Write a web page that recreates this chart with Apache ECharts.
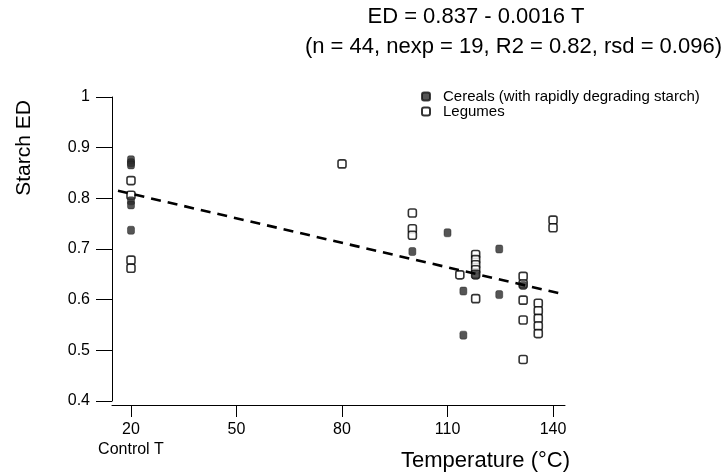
<!DOCTYPE html>
<html>
<head>
<meta charset="utf-8">
<script src="https://cdn.jsdelivr.net/npm/echarts@6/dist/echarts.min.js"></script>
<style>
html,body{margin:0;padding:0;background:#fff;}
#c{width:724px;height:472px;}
</style>
</head>
<body>
<div id="c"></div>
<script>
// Data
const cerealT  = [20, 20, 20, 20, 20, 20, 100, 110, 114.5, 114.5, 118, 124.7, 124.7, 131.5];
const cerealED = [0.876, 0.870, 0.866, 0.795, 0.787, 0.737, 0.695, 0.732, 0.617, 0.530, 0.648, 0.700, 0.610, 0.628];

const legumeT  = [20, 20, 20, 20, 80, 100, 100, 100, 113.5, 118, 118, 118, 118, 118, 118,
                  131.5, 131.5, 131.5, 131.5, 131.5, 135.8, 135.8, 135.8, 135.8, 135.8, 140, 140];
const legumeED = [0.835, 0.806, 0.678, 0.662, 0.868, 0.771, 0.740, 0.727, 0.649, 0.689, 0.679, 0.669, 0.659, 0.650, 0.602,
                  0.646, 0.631, 0.599, 0.560, 0.482, 0.593, 0.578, 0.563, 0.548, 0.533, 0.757, 0.742];

const fitT  = [16.3, 141.5];
const fitED = [0.815, 0.613];

const xTicks = [20, 50, 80, 110, 140];
const xControlLabel = 'Control T';
const titleLine1 = 'ED = 0.837 - 0.0016 T';
const titleLine2 = '(n = 44, nexp = 19, R2 = 0.82, rsd = 0.096)';
const seriesNames = ['Cereals (with rapidly degrading starch)', 'Legumes'];

const FONT = '"Liberation Sans", Arial, sans-serif';
const zip = (a, b) => a.map((v, i) => [v, b[i]]);

const chart = echarts.init(document.getElementById('c'), null, {renderer: 'canvas'});
chart.setOption({
  animation: false,
  backgroundColor: '#fff',
  textStyle: {fontFamily: FONT, color: '#000'},
  grid: {left: 112, right: 159, top: 97, bottom: 70, containLabel: false},
  legend: {
    orient: 'vertical',
    left: 421, top: 89,
    padding: 0,
    itemGap: 0,
    itemWidth: 8, itemHeight: 8,
    textStyle: {fontFamily: FONT, fontSize: 15, color: '#000', padding: [0, 0, 0, 8]},
    data: seriesNames
  },
  graphic: [
    {type: 'text', x: 476, y: 17, style: {text: titleLine1, font: '22px ' + FONT, fill: '#000', align: 'center', verticalAlign: 'middle'}},
    {type: 'text', x: 722, y: 47, style: {text: titleLine2, font: '22px ' + FONT, fill: '#000', align: 'right', verticalAlign: 'middle'}},
    {type: 'text', x: 24, y: 148, rotation: Math.PI / 2, style: {text: 'Starch ED', font: '21px ' + FONT, fill: '#000', align: 'center', verticalAlign: 'middle'}}
  ],
  xAxis: {
    type: 'value',
    min: 14.6, max: 143.4,
    offset: 4,
    splitLine: {show: false},
    axisLine: {show: true, onZero: false, lineStyle: {color: '#000', width: 1}},
    axisTick: {show: true, length: 12, customValues: xTicks, lineStyle: {color: '#000', width: 1}},
    axisLabel: {
      customValues: xTicks,
      margin: 17,
      fontSize: 16, color: '#000', fontFamily: FONT,
      formatter: v => v === 20 ? '20\n{c|' + xControlLabel + '}' : String(v),
      rich: {c: {fontSize: 16, fontFamily: FONT, color: '#000', lineHeight: 24}}
    },
    name: 'Temperature (°C)',
    nameLocation: 'end',
    nameGap: 5,
    nameTextStyle: {fontSize: 22, fontFamily: FONT, color: '#000', align: 'right', verticalAlign: 'top', padding: [45, 0, 0, 0]}
  },
  yAxis: {
    type: 'value',
    min: 0.4, max: 1, interval: 0.1,
    splitLine: {show: false},
    axisLine: {show: true, onZero: false, lineStyle: {color: '#000', width: 1}},
    axisTick: {show: true, length: 16, lineStyle: {color: '#000', width: 1}},
    axisLabel: {margin: 22, fontSize: 16, color: '#000', fontFamily: FONT, padding: [0, 0, 4, 0],
      formatter: v => String(Math.round(v * 10) / 10)}
  },
  series: [
    {
      name: seriesNames[0], type: 'scatter',
      symbol: 'roundRect', symbolSize: [7, 8],
      itemStyle: {color: '#2b2b2b', borderColor: '#111', borderWidth: 0.5},
      data: zip(cerealT, cerealED), z: 3
    },
    {
      name: seriesNames[1], type: 'scatter',
      symbol: 'roundRect', symbolSize: [8, 8],
      itemStyle: {color: '#fff', borderColor: '#000', borderWidth: 1.6},
      data: zip(legumeT, legumeED), z: 2
    },
    {
      name: 'fit', type: 'line',
      data: zip(fitT, fitED),
      symbol: 'none', z: 4,
      lineStyle: {color: '#000', width: 2.6, type: [10, 7]}
    }
  ]
});
</script>
</body>
</html>
